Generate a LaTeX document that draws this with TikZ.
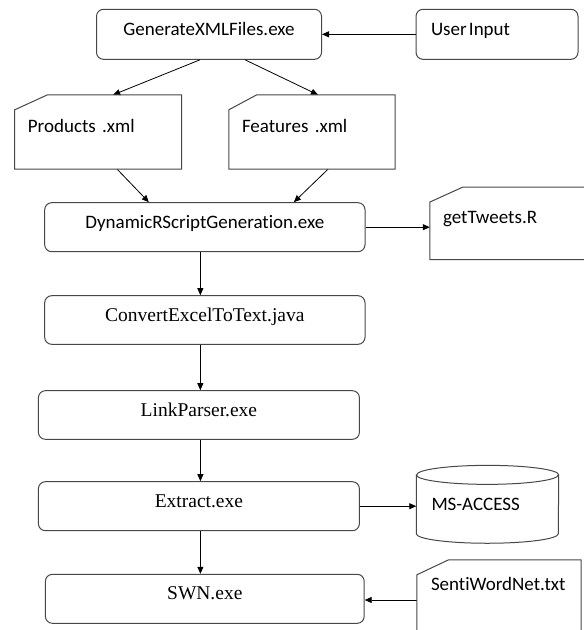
\documentclass[tikz,border=0pt]{standalone}
\usepackage{fontspec}
\setmainfont{Liberation Serif}
\newfontfamily\calibri[Ligatures=NoCommon]{Carlito}
\usepackage{tikz}
\usetikzlibrary{positioning,arrows.meta}
\tikzset{
  proc/.style={rectangle, draw=black!72, line width=1pt, rounded corners=7pt,
               inner sep=0pt, text height=7pt, text depth=5pt, align=center},
  sansproc/.style={proc, font=\calibri\fontsize{19}{22}\selectfont},
  serifproc/.style={proc, font=\fontsize{19.5}{22}\selectfont},
  doc/.style={rectangle, inner ysep=0pt, inner xsep=13pt, align=left,
              text height=6pt, text depth=6pt, font=\calibri\fontsize{19}{22}\selectfont},
  outline/.style={draw=black!72, line width=1pt},
  arr/.style={-{Triangle[length=7pt, width=6pt]}, line width=0.8pt, draw=black},
}

\begin{document}
\begin{tikzpicture}[x=1pt, y=-1pt]
    \useasboundingbox (0,0) rectangle (584,630);
    \clip (0,0) rectangle (584,630);

    %% --- generator and its inputs ---
    \node[sansproc, minimum width=225pt, minimum height=50pt] (gen) at (209,34.3) {GenerateXMLFiles.exe};
    \node[sansproc, minimum width=162pt, minimum height=50pt, text width=132pt, inner xsep=15pt, align=left] (user) at (497,34.3) {User\hspace{0.12em}Input};
    \draw[arr] (user.west) -- (gen.east);

    %% --- xml files ---
    \node[doc, minimum height=74pt, text width=140.5pt] (prod) at (98.15,132) {Products .xml};
    \node[doc, minimum height=74pt, text width=140pt] (feat) at (312,132) {Features .xml};
    \draw[arr] ([xshift=-9pt]gen.south) -- ([xshift=15pt]prod.north);
    \draw[arr] ([xshift=36pt]gen.south) -- ([xshift=6pt]feat.north);

    %% --- R script ---
    \node[sansproc, minimum width=320.3pt, minimum height=49pt] (dyn) at (204.85,227.2) {DynamicRScriptGeneration.exe};
    \node[doc, minimum height=72pt, text width=144pt] (tw) at (515,223.3) {getTweets.R};
    \draw[arr] ([xshift=19pt]prod.south) -- ([xshift=-56pt]dyn.north);
    \draw[arr] ([xshift=16pt]feat.south) -- ([xshift=89pt]dyn.north);
    \draw[arr] (dyn.east) -- (dyn.east -| tw.west);

    %% --- processing chain ---
    \node[serifproc, minimum width=320.3pt, minimum height=48.6pt] (conv) at (204.85,320) {ConvertExcelToText.java};
    \node[serifproc, minimum width=321pt, minimum height=48.6pt] (link) at (198.9,415) {LinkParser.exe};
    \node[serifproc, minimum width=321pt, minimum height=49pt] (ext) at (198.9,506.2) {Extract.exe};
    \node[serifproc, minimum width=318.8pt, minimum height=49pt] (swn) at (204.8,598.8) {SWN.exe};
    \draw[arr] ([xshift=-4.5pt]dyn.south) -- ([xshift=-4.5pt]conv.north);
    \draw[arr] ([xshift=-4.5pt]conv.south) -- ([xshift=-4.5pt]conv.south |- link.north);
    \draw[arr] ([xshift=1.5pt]link.south) -- ([xshift=1.5pt]ext.north);
    \draw[arr] ([xshift=1.5pt]ext.south) -- ([xshift=1.5pt]ext.south |- swn.north);

    %% --- database and word list ---
    \node[doc, minimum height=77.5pt, text width=112pt, inner xsep=15pt, text height=12pt, text depth=0pt] (db) at (487.5,504.3) {MS-ACCESS};
    \node[doc, minimum height=80pt, text width=136pt, inner xsep=14pt, text height=0pt, text depth=20pt] (senti) at (499,600) {SentiWordNet.txt};
    \draw[arr] (ext.east) -- (ext.east -| db.west);
    \draw[arr] (senti.west) -- (senti.west -| swn.east);

    % cut-corner outlines of the files
    \foreach \n/\cx in {prod/32.8, feat/28, tw/33, senti/31.8}
      \draw[outline] ([yshift=-15pt]\n.north west) -- ([xshift=\cx pt]\n.north west)
        -- (\n.north east) -- (\n.south east) -- (\n.south west) -- cycle;

    % cylinder
    \draw[outline] ([yshift=-9.5pt]db.north west) -- ([yshift=9.5pt]db.south west)
      arc[start angle=180, end angle=360, x radius=71pt, y radius=9.5pt]
      -- ([yshift=-9.5pt]db.north east)
      arc[start angle=0, end angle=180, x radius=71pt, y radius=9.5pt] -- cycle;
    \draw[outline] ([yshift=-9.5pt]db.north west)
      arc[start angle=180, end angle=360, x radius=71pt, y radius=9.5pt];
\end{tikzpicture}
\end{document}
